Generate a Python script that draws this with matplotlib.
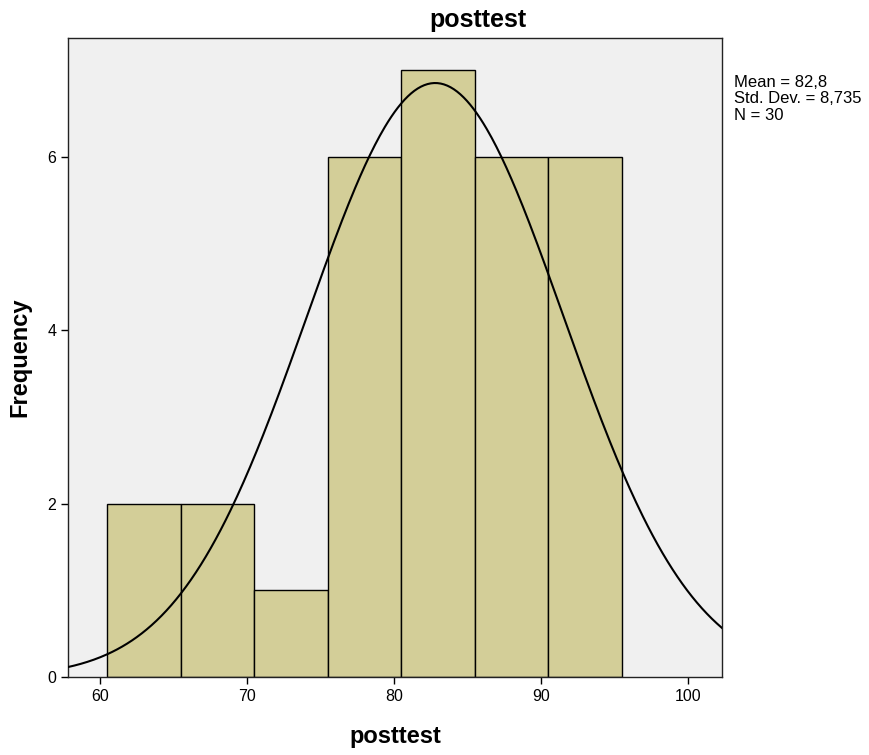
import numpy as np
import matplotlib
matplotlib.use("Agg")
import matplotlib.pyplot as plt

plt.rcParams['font.family'] = ['Liberation Sans', 'DejaVu Sans']

# Data
bin_edges = [60.5, 65.5, 70.5, 75.5, 80.5, 85.5, 90.5, 95.5]
counts = [2, 2, 1, 6, 7, 6, 6]
mean_val = 82.8
std_val = 8.735
n_val = 30
x_ticks = [60, 70, 80, 90, 100]
y_ticks = [0, 2, 4, 6]

fig = plt.figure(figsize=(8.7, 7.55), dpi=100)
ax = fig.add_axes([68/870, 78/755, (722-68)/870, (677-38)/755])
ax.set_facecolor('#F0F0F0')

lefts = bin_edges[:-1]
widths = np.diff(bin_edges)
ax.bar(lefts, counts, width=widths, align='edge', color='#D3CE98',
       edgecolor='black', linewidth=1.0, zorder=2)

xs = np.linspace(57.8, 102.4, 400)
bw = widths[0]
ys = n_val * bw / (std_val * np.sqrt(2 * np.pi)) * np.exp(-0.5 * ((xs - mean_val) / std_val) ** 2)
ax.plot(xs, ys, color='black', linewidth=1.5, zorder=3)

ax.set_xlim(57.82, 102.31)
ax.set_ylim(0, 7.37)
ax.set_xticks(x_ticks)
ax.set_yticks(y_ticks)
ax.tick_params(axis='both', direction='out', length=5, width=1, labelsize=11.5, color='black')
for s in ax.spines.values():
    s.set_color('#222222')
    s.set_linewidth(1.0)

ax.set_xlabel('posttest', fontsize=17, fontweight='bold')
ax.set_ylabel('Frequency', fontsize=17, fontweight='bold')
ax.xaxis.set_label_coords(0.5, -(737 - 677) / 639, transform=ax.transAxes)
ax.xaxis.label.set_va('center')
ax.yaxis.set_label_coords(-(68 - 20) / 654, 0.5, transform=ax.transAxes)
ax.yaxis.label.set_va('center')
fig.text(478/870, 1 - 20/755, 'posttest', fontsize=18, fontweight='bold',
         ha='center', va='center')

fig.text(734/870, 1 - 75/755,
         f"Mean = {str(mean_val).replace('.', ',')}\nStd. Dev. = {str(std_val).replace('.', ',')}\nN = {n_val}",
         fontsize=12, ha='left', va='top', linespacing=1.12)

fig.savefig('out.png', dpi=100)
